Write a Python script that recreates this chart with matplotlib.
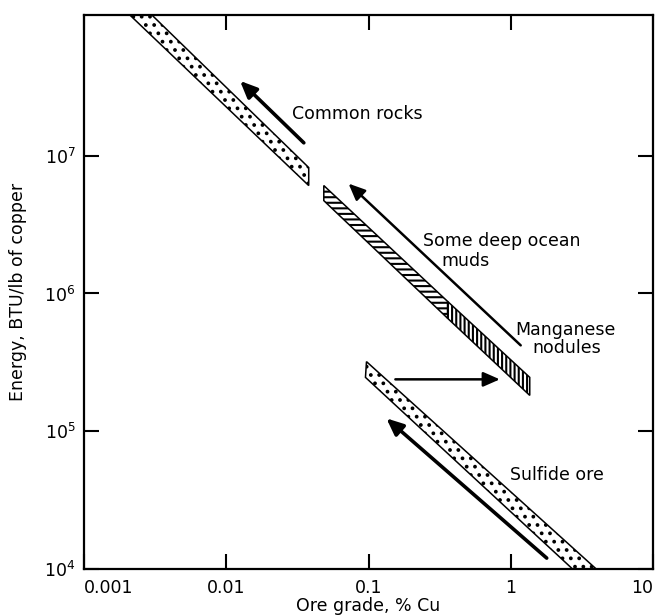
import matplotlib
matplotlib.use("Agg")
import matplotlib.pyplot as plt
from matplotlib.patches import Polygon

plt.rcParams['font.family'] = ['DejaVu Sans']
plt.rcParams['mathtext.fontset'] = 'dejavusans'
plt.rcParams['hatch.linewidth'] = 1.5

# ---- data (ore grade % Cu, energy BTU/lb) ----
xtick_vals = [0.001, 0.01, 0.1, 1, 10]
xtick_labels = ["0.001", "0.01", "0.1", "1", "10"]
ytick_vals = [1e4, 1e5, 1e6, 1e7]
ytick_labels = [r"$10^4$", r"$10^5$", r"$10^6$", r"$10^7$"]

rocks_x = [0.0021, 0.0030, 0.038, 0.038]
rocks_y = [1.05e8, 1.05e8, 8.2e6, 6.07e6]

muds_x = [0.0485, 0.36, 0.36, 0.0485]
muds_y = [6.07e6, 8.75e5, 6.6e5, 4.72e6]

nodules_x = [0.36, 1.36, 1.36, 0.36]
nodules_y = [8.75e5, 2.46e5, 1.82e5, 6.6e5]

sulfide_x = [0.0968, 3.99, 2.72, 0.0952]
sulfide_y = [3.2e5, 1.0e4, 1.0e4, 2.46e5]

# arrows: (tail_x, tail_y, head_x, head_y, linewidth)
arrow_rocks = (0.0351, 1.24e7, 0.0125, 3.49e7, 2.6)
arrow_muds = (1.175, 4.2e5, 0.0724, 6.27e6, 1.8)
arrow_horiz = (0.1545, 2.38e5, 0.838, 2.38e5, 1.8)
arrow_sulfide = (1.79, 1.2e4, 0.1336, 1.24e5, 2.6)

fig = plt.figure(figsize=(6.56, 6.16), dpi=100)
ax = fig.add_axes([84/656, 1-569/616, (653-84)/656, (569-15)/616])
ax.set_xscale('log')
ax.set_yscale('log')
ax.set_xlim(0.001, 10)
ax.set_ylim(1e4, 1.05e8)

def band(xs, ys, hatch, lw=1.1):
    p = Polygon(list(zip(xs, ys)), closed=True, facecolor='white',
                edgecolor='black', hatch=hatch, linewidth=lw, zorder=2)
    ax.add_patch(p)

band(rocks_x, rocks_y, '..')
band(muds_x, muds_y, '---')
band(nodules_x, nodules_y, '||||')
band(sulfide_x, sulfide_y, '..')

for tx, ty, hx, hy, lw in [arrow_rocks, arrow_muds, arrow_horiz, arrow_sulfide]:
    ax.annotate('', xy=(hx, hy), xytext=(tx, ty),
                arrowprops=dict(arrowstyle='-|>,head_length=0.5,head_width=0.22',
                                color='black', lw=lw, mutation_scale=20,
                                shrinkA=0, shrinkB=0), zorder=3)

fs = 12.5
ax.text(0.029, 2.01e7, "Common rocks", fontsize=fs, ha='left', va='center')
ax.text(0.2427, 2.42e6, "Some deep ocean", fontsize=fs, ha='left', va='center')
ax.text(0.324, 1.73e6, "muds", fontsize=fs, ha='left', va='center')
ax.text(1.084, 5.4e5, "Manganese", fontsize=fs, ha='left', va='center')
ax.text(1.426, 3.99e5, "nodules", fontsize=fs, ha='left', va='center')
ax.text(0.984, 4.8e4, "Sulfide ore", fontsize=fs, ha='left', va='center')

ax.set_xticks(xtick_vals)
ax.set_xticklabels(xtick_labels)
ax.set_yticks(ytick_vals)
ax.set_yticklabels(ytick_labels)
ax.minorticks_off()
xl = ax.get_xticklabels()
xl[0].set_ha('left')
xl[-1].set_ha('right')

ax.tick_params(axis='both', which='major', direction='in', length=11, width=1.5,
               top=True, right=True, labelsize=fs, pad=6)
ax.tick_params(axis='x', pad=7)
for s in ax.spines.values():
    s.set_linewidth(1.6)

ax.set_xlabel("Ore grade, % Cu", fontsize=fs, labelpad=0)
ax.set_ylabel("Energy, BTU/lb of copper", fontsize=fs)
ax.yaxis.set_label_coords(-0.1, 0.5)

fig.savefig("out.png", dpi=100)
